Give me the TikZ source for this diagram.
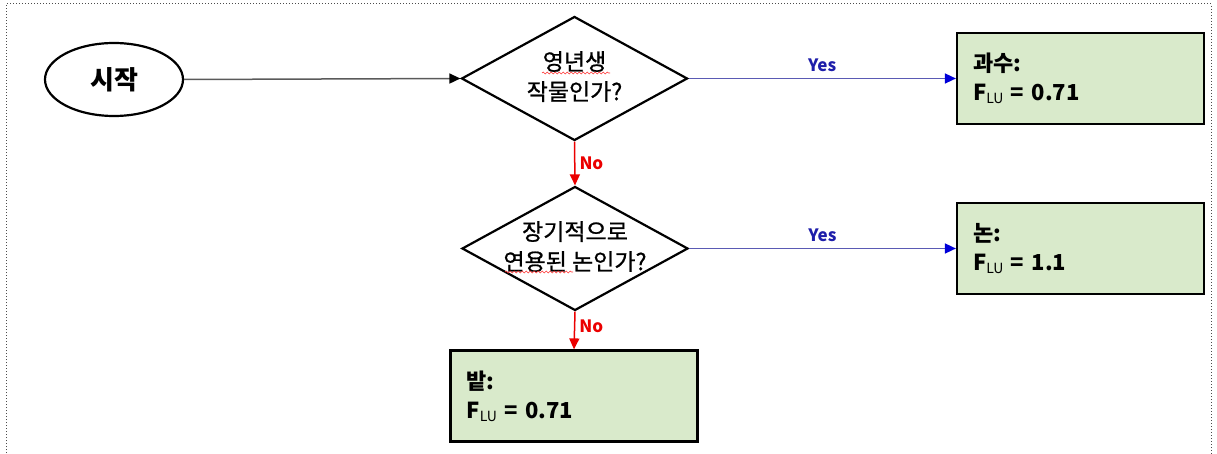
\documentclass[tikz,border=0pt]{standalone}
\usepackage{fontspec}
\setmainfont{Noto Sans CJK KR}
\newfontfamily\krmed[FakeBold=0.8]{Noto Sans CJK KR}
\usetikzlibrary{arrows.meta,shapes.geometric,decorations.pathmorphing}
\definecolor{boxgreen}{RGB}{217,234,203}
\definecolor{yesblue}{RGB}{30,30,170}
\definecolor{yesline}{RGB}{90,90,180}
\definecolor{nored}{RGB}{235,0,0}
\definecolor{startgray}{RGB}{90,90,90}
\newcommand{\fsub}{F\raisebox{-3pt}{\fontsize{14}{14}\selectfont\mdseries LU}}
\begin{document}
\begin{tikzpicture}[x=1pt,y=-1pt,
  startnode/.style={ellipse,draw=black,line width=2.2pt,minimum width=138pt,minimum height=73pt,inner sep=0pt,
    font=\fontsize{26}{28}\selectfont\bfseries},
  dia/.style={diamond,draw=black,line width=2.2pt,minimum width=226pt,minimum height=124pt,inner sep=0pt},
  diatext/.style={align=center,inner sep=0pt,font=\fontsize{23}{30}\selectfont\krmed},
  resbox/.style={rectangle,draw=black,line width=2.2pt,fill=boxgreen,minimum height=91pt,
    text width=215pt,inner xsep=16pt,align=left,font=\fontsize{22}{29}\selectfont\bfseries},
  yesarrow/.style={draw=yesline,line width=1.5pt,-{Triangle[length=11pt,width=10pt,color=blue!85!black]}},
  noarrow/.style={draw=nored,line width=1.5pt,-{Triangle[length=11pt,width=10pt,color=nored]}},
  startarrow/.style={draw=startgray,line width=1.5pt,-{Triangle[length=11pt,width=10pt,color=black]}},
  yeslabel/.style={text=yesblue,font=\fontsize{17}{17}\selectfont\bfseries,inner sep=0pt},
  nolabel/.style={text=nored,font=\fontsize{17}{17}\selectfont\bfseries,inner sep=0pt},
  squiggle/.style={draw=red!80,line width=0.6pt,decorate,decoration={snake,segment length=4pt,amplitude=0.9pt}},
  frame/.style={draw=black!70,line width=1pt,dotted}
]
\useasboundingbox (0,0) rectangle (1217,454);
\draw[frame] (6,456) -- (6,4) -- (1211,4) -- (1211,456);

\node[startnode] (start) at (114,79.5) {시작};

\node[dia] (d1) at (574.5,78.5) {};
\node[diatext] (d1t) at (574.5,76.5) {영년생\\작물인가?};
\node[dia] (d2) at (575,248.5) {};
\node[diatext] (d2t) at (575,246.5) {장기적으로\\연용된 논인가?};

\node[resbox] (r1) at (1080.5,78.5) {과수:\\\fsub{} = 0.71};
\node[resbox] (r2) at (1080.5,248.5) {논:\\\fsub{} = 1.1};
\node[resbox] (r3) at (574,396) {밭:\\\fsub{} = 0.71};

\draw[startarrow] (start.east) -- (d1.west);
\draw[yesarrow] (d1.east) -- (r1.west) node[yeslabel,midway,above=6pt] {Yes};
\draw[yesarrow] (d2.east) -- (r2.west) node[yeslabel,midway,above=6pt] {Yes};
\draw[noarrow] (d1.south) -- (d2.north) node[nolabel,midway,right=4pt] {No};
\draw[noarrow] (d2.south) -- (r3.north) node[nolabel,pos=0.4,right=4pt] {No};

\draw[squiggle] (542,73) -- (610,73);
\draw[squiggle] (505,272) -- (573,272);
\end{tikzpicture}
\end{document}
